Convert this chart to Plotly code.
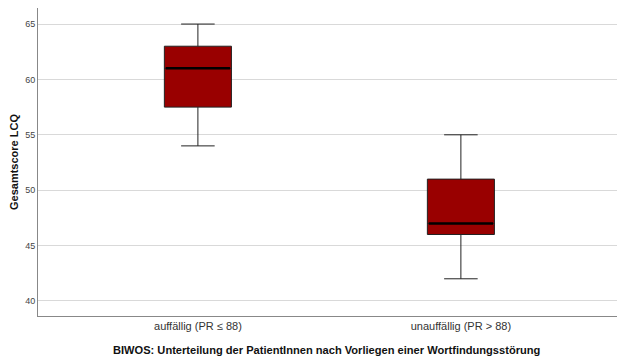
import plotly.graph_objects as go

categories = ["auffällig (PR ≤ 88)", "unauffällig (PR > 88)"]
lower_whisker = [54, 42]
q1 = [57.5, 46]
median = [61, 47]
q3 = [63, 51]
upper_whisker = [65, 55]
y_ticks = [40, 45, 50, 55, 60, 65]

fig = go.Figure()
fig.add_trace(go.Box(
    x=categories, q1=q1, median=median, q3=q3,
    lowerfence=lower_whisker, upperfence=upper_whisker,
    fillcolor="#990000", line=dict(color="#222222", width=1),
    width=0.255, whiskerwidth=0.5, boxpoints=False, hoverinfo="skip",
))
# thicker median lines
for i, c in enumerate(categories):
    fig.add_trace(go.Scatter(
        x=[i - 0.122, i + 0.122], y=[median[i], median[i]], mode="lines",
        line=dict(color="black", width=2.5), hoverinfo="skip", xaxis="x2",
    ))

XR = [-0.608, 1.624]
fig.update_layout(
    width=625, height=358,
    margin=dict(l=38, r=0, t=8, b=42),
    paper_bgcolor="white", plot_bgcolor="white",
    showlegend=False,
    font=dict(family="Liberation Sans, Arial, sans-serif", color="#333333"),
    xaxis=dict(
        type="category", range=XR, automargin=False,
        showgrid=False, showline=True, linecolor="#888888", linewidth=1,
        ticks="", ticklen=0, tickfont=dict(size=11, color="#333333"),
    ),
    xaxis2=dict(
        overlaying="x", range=XR, visible=False,
    ),
    yaxis=dict(
        range=[38.64, 66.45], tickvals=y_ticks, automargin=False,
        showgrid=True, gridcolor="#d9d9d9", gridwidth=1.2,
        showline=True, linecolor="#888888", linewidth=1,
        ticks="", zeroline=False,
        tickfont=dict(size=9, color="#444444"),
    ),
    annotations=[
        dict(text="<b>BIWOS: Unterteilung der PatientInnen nach Vorliegen einer Wortfindungsstörung</b>",
             xref="paper", yref="paper", x=0.4925, y=0, yshift=-34, yanchor="middle",
             showarrow=False, font=dict(size=11.1, color="#111111")),
        dict(text="<b>Gesamtscore LCQ</b>", textangle=-90,
             xref="paper", yref="paper", x=0, xshift=-24, y=0.5, xanchor="center",
             showarrow=False, font=dict(size=11, color="#111111")),
    ],
)
fig.write_html("out.html", config={"displayModeBar": False},
               post_script="document.body.style.margin='0';document.body.style.overflow='hidden';")
